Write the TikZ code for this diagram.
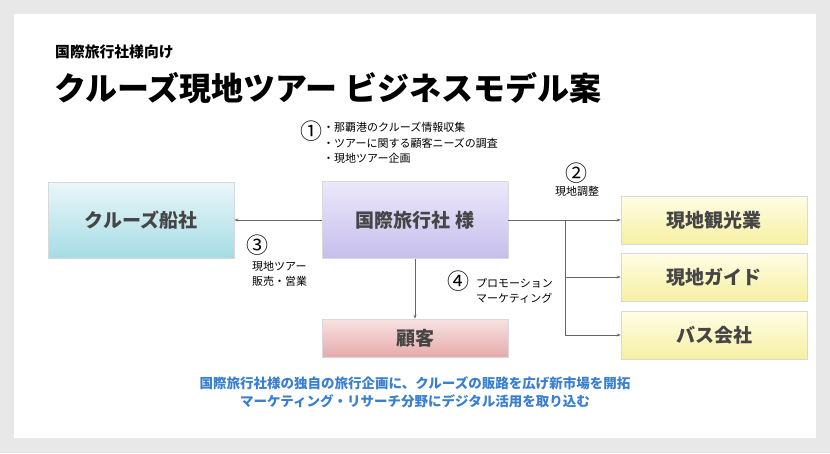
\documentclass[tikz,border=0pt]{standalone}
\usepackage{fontspec}
\setmainfont{Noto Sans CJK JP}
\usetikzlibrary{arrows.meta}
\definecolor{frame}{HTML}{E8E8E8}
\definecolor{blueTxt}{HTML}{3A7FD0}
\definecolor{boxtxt}{HTML}{454545}
\definecolor{cyT}{HTML}{EAF7F9}\definecolor{cyB}{HTML}{A6DCE5}
\definecolor{vT}{HTML}{ECE8FA}\definecolor{vB}{HTML}{C6BEEC}
\definecolor{pT}{HTML}{F8E2E2}\definecolor{pB}{HTML}{E6AAAA}
\definecolor{yT}{HTML}{FFFDE6}\definecolor{yB}{HTML}{F6F0A2}
\tikzset{
  x=1pt,y=-1pt,
  box/.style={draw=white!85!black,line width=0.6pt,minimum width=186pt,inner sep=0pt,font=\bfseries\fontsize{19}{22}\selectfont,text=boxtxt},
  conn/.style={draw=gray!80!black,line width=0.7pt,-{Stealth[length=4pt,width=3pt]}},
  line/.style={draw=gray!80!black,line width=0.7pt},
  small/.style={font=\fontsize{11}{15.5}\selectfont,align=left,inner sep=0pt},
  num/.style={font=\fontsize{22}{22}\selectfont,inner sep=0pt},
}
\begin{document}
\begin{tikzpicture}
\fill[frame] (0,0) rectangle (830,453);
\fill[white] (14,14) rectangle (816,438);
\useasboundingbox (0,0) rectangle (830,453);
\node[anchor=west,font=\bfseries\fontsize{14.8}{16}\selectfont,inner sep=0pt] (sub) at (55,52) {国際旅行社様向け};
\node[anchor=west,font=\bfseries\fontsize{32}{34}\selectfont,inner sep=0pt] (title) at (54,88) {クルーズ現地ツアー ビジネスモデル案};
\node[box,minimum height=76pt,top color=cyT,bottom color=cyB] (cruise) at (141,220) {クルーズ船社};
\node[box,minimum height=77pt,top color=vT,bottom color=vB] (agency) at (415,220) {国際旅行社 様};
\node[box,minimum height=38pt,top color=pT,bottom color=pB] (cust) at (415,338) {顧客};
\node[box,minimum height=48pt,top color=yT,bottom color=yB] (s1) at (714,220) {現地観光業};
\node[box,minimum height=48pt,top color=yT,bottom color=yB] (s2) at (714,277) {現地ガイド};
\node[box,minimum height=48pt,top color=yT,bottom color=yB] (s3) at (714,335) {バス会社};
\coordinate (j) at (565,220);
\draw[conn] (agency.west) -- (cruise.east);
\draw[conn] (agency.south) -- (cust.north);
\draw[line] (agency.east) -- (j);
\draw[conn] (j) -- (s1.west);
\draw[line] (j) -- (565,335);
\draw[conn] (565,277) -- (s2.west);
\draw[conn] (565,335) -- (s3.west);
\node[num] (n1) at (311,131) {①};
\node[small,anchor=north west] (t1) at (323,122) {・那覇港のクルーズ情報収集\\・ツアーに関する顧客ニーズの調査\\・現地ツアー企画};
\node[num] (n2) at (576,173) {②};
\node[small] (t2) at (577,191) {現地調整};
\node[num] (n3) at (257,245) {③};
\node[small,anchor=north west] (t3) at (252,261) {現地ツアー\\販売・営業};
\node[num] (n4) at (458,281) {④};
\node[small,anchor=west] (t4) at (476,291) {プロモーション\\マーケティング};
\node[font=\bfseries\fontsize{13.5}{18}\selectfont,text=blueTxt,align=center] (foot) at (415,392) {国際旅行社様の独自の旅行企画に、クルーズの販路を広げ新市場を開拓\\マーケティング・リサーチ分野にデジタル活用を取り込む};
\end{tikzpicture}
\end{document}
